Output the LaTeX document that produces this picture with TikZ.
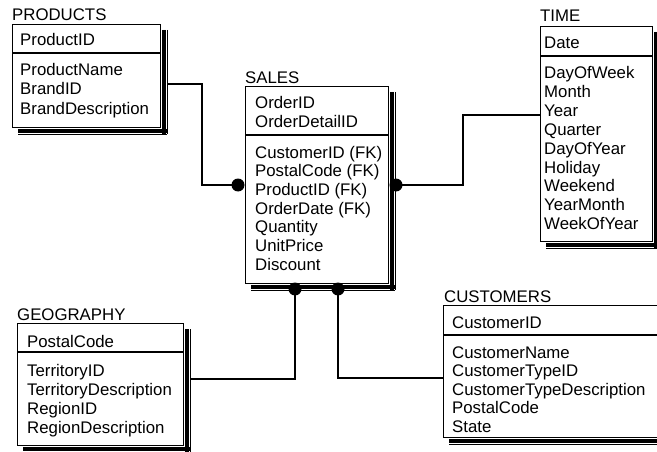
\documentclass[tikz,border=0pt]{standalone}
\usepackage{fontspec}
\setmainfont{Liberation Sans}
\usetikzlibrary{calc}

\newcommand\erdfont{\fontsize{16.8}{18.8}\selectfont}

\tikzset{
	entity/.style={draw, line width=1.2pt, fill=white, anchor=north west, inner sep=0pt},
	shadowline/.style={line width=0.6pt, black},
	etitle/.style={anchor=base west, inner sep=0pt, font=\erdfont},
	attr/.style={anchor=base west, inner sep=0pt, font=\erdfont},
	sepline/.style={line width=1.2pt},
	fkdot/.style={circle, fill=black, inner sep=0pt, minimum size=13pt},
	link/.style={line width=1.2pt}
}

\begin{document}
\begin{tikzpicture}[x=1pt,y=-1pt]
	\useasboundingbox (0,0) rectangle (657,452);

	% entities
	\node[entity, minimum width=148pt, minimum height=103pt] at (12,24) (products) {};
	\node[entity, minimum width=143pt, minimum height=197pt] at (245,86) (sales) {};
	\node[entity, minimum width=112pt, minimum height=215pt] at (540,26) (time) {};
	\node[entity, minimum width=166pt, minimum height=122pt] at (17,323) (geography) {};
	\node[entity, minimum width=230pt, minimum height=132pt] at (443,305) (customers) {};

	% shadows
	\foreach \e in {products,sales,time,geography,customers}{
		\foreach \d in {0.9,2.1,3.3,4.5,5.7}{
			\draw[shadowline] ($(\e.north east)+(\d,6)$) -- ($(\e.south east)+(\d,6)$);
			\draw[shadowline] ($(\e.south west)+(6,\d)$) -- ($(\e.south east)+(6,\d)$);
		}
	}

	\draw[sepline] (products.west |- 0,53) -- (products.east |- 0,53);
	\draw[sepline] (sales.west |- 0,135) -- (sales.east |- 0,135);
	\draw[sepline] (time.west |- 0,56) -- (time.east |- 0,56);
	\draw[sepline] (geography.west |- 0,352) -- (geography.east |- 0,352);
	\draw[sepline] (customers.west |- 0,335) -- (customers.east |- 0,335);

	% titles
	\node[etitle] at (12,21) (t-products) {PRODUCTS};
	\node[etitle] at (245,84) (t-sales) {SALES};
	\node[etitle] at (540,22) (t-time) {TIME};
	\node[etitle] at (17,320) (t-geography) {GEOGRAPHY};
	\node[etitle] at (444,302) (t-customers) {CUSTOMERS};

	% PRODUCTS
	\node[attr] at (20,46) (p-key) {ProductID};
	\foreach \t [count=\i from 0] in {ProductName,BrandID,BrandDescription}
		\node[attr] at (20,{76+19*\i}) (p-\i) {\t};

	% SALES
	\node[attr] at (255,109) (s-key1) {OrderID};
	\node[attr] at (255,128) (s-key2) {OrderDetailID};
	\foreach \t [count=\i from 0] in {CustomerID (FK),PostalCode (FK),ProductID (FK),OrderDate (FK),Quantity,UnitPrice,Discount}
		\node[attr] at (255,{158+18.67*\i}) (s-\i) {\t};

	% TIME
	\node[attr] at (544,49) (t-key) {Date};
	\foreach \t [count=\i from 0] in {DayOfWeek,Month,Year,Quarter,DayOfYear,Holiday,Weekend,YearMonth,WeekOfYear}
		\node[attr] at (544,{79+18.8*\i}) (t-\i) {\t};

	% GEOGRAPHY
	\node[attr] at (27,347) (g-key) {PostalCode};
	\foreach \t [count=\i from 0] in {TerritoryID,TerritoryDescription,RegionID,RegionDescription}
		\node[attr] at (27,{376+19*\i}) (g-\i) {\t};

	% CUSTOMERS
	\node[attr] at (452,328) (c-key) {CustomerID};
	\foreach \t [count=\i from 0] in {CustomerName,CustomerTypeID,CustomerTypeDescription,PostalCode,State}
		\node[attr] at (452,{358+18.5*\i}) (c-\i) {\t};

	% relationship ends
	\coordinate (pout) at (167,84);
	\coordinate (tin) at (540,115);
	\coordinate (gout) at (190,379);
	\coordinate (cin) at (443,378);

	\node[fkdot] at (238,185) (d-products) {};
	\node[fkdot] at (396,185) (d-time) {};
	\node[fkdot] at (295,289) (d-geography) {};
	\node[fkdot] at (338,289) (d-customers) {};

	\draw[link] (pout) -- ++(35,0) |- (d-products.center);
	\draw[link] (d-time.center) -- ++(67,0) |- (tin);
	\draw[link] (d-geography.center) |- (gout);
	\draw[link] (d-customers.center) |- (cin);
\end{tikzpicture}
\end{document}
